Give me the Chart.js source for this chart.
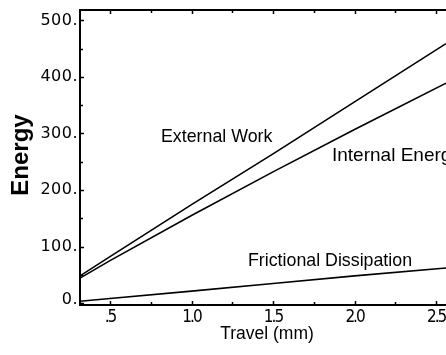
<!DOCTYPE html>
<html><head><meta charset="utf-8">
<script src="https://cdn.jsdelivr.net/npm/chart.js@4/dist/chart.umd.min.js"></script>
<style>html,body{margin:0;padding:0;background:#fff;overflow:hidden}</style>
</head><body>
<canvas id="c" width="446" height="355"></canvas>
<script>
const travel = [0.316, 0.5, 1.0, 1.5, 2.0, 2.561];
const externalWork = [48, 82, 174, 264, 356, 459];
const internalEnergy = [44, 75, 155, 232, 307, 389];
const frictional = [3, 8, 21, 34.5, 48, 62];
const xTickValues = [0.5, 1.0, 1.5, 2.0, 2.5];
const xTickLabels = ['.5', '1.0', '1.5', '2.0', '2.5'];
const xMinorValues = [0.75, 1.25, 1.75, 2.25];
const yTickValues = [0, 100, 200, 300, 400, 500];
const yTickLabels = ['0.', '100.', '200.', '300.', '400.', '500.'];
const yMinorValues = [50, 150, 250, 350, 450];
const seriesNames = ['External Work', 'Internal Energy', 'Frictional Dissipation'];
const xTitle = 'Travel (mm)';
const yTitle = 'Energy';

const pts = ys => travel.map((x, i) => ({x, y: ys[i]}));

const deco = {
  id: 'deco',
  afterDraw(chart) {
    const {ctx, chartArea: a, scales: {x, y}} = chart;
    ctx.save();
    ctx.strokeStyle = '#000';
    ctx.lineWidth = 2;
    ctx.beginPath();
    ctx.moveTo(a.left - 1, a.top);
    ctx.lineTo(a.right + 5, a.top);
    ctx.stroke();
    ctx.lineWidth = 1.5;
    ctx.beginPath();
    const xt = (v, len) => {
      const px = Math.round(x.getPixelForValue(v)) + 0.5;
      ctx.moveTo(px, a.bottom); ctx.lineTo(px, a.bottom - len);
      ctx.moveTo(px, a.top); ctx.lineTo(px, a.top + len);
    };
    const yt = (v, len) => {
      const py = Math.round(y.getPixelForValue(v)) + 0.5;
      ctx.moveTo(a.left, py); ctx.lineTo(a.left + len, py);
    };
    xTickValues.forEach(v => xt(v, 4));
    xMinorValues.forEach(v => xt(v, 3));
    yTickValues.forEach(v => yt(v, 4));
    yMinorValues.forEach(v => yt(v, 3));
    ctx.stroke();

    ctx.fillStyle = '#000';
    // y tick labels
    ctx.font = '16px "DejaVu Sans"';
    ctx.letterSpacing = '0.5px';
    ctx.textAlign = 'right';
    ctx.textBaseline = 'middle';
    yTickValues.forEach((v, i) => {
      let py = y.getPixelForValue(v);
      if (v === 0) py -= 3;
      ctx.fillText(yTickLabels[i], a.left - 2, py);
    });
    // x tick labels
    ctx.font = '17px "DejaVu Sans Condensed"';
    ctx.letterSpacing = '-2px';
    ctx.textAlign = 'center';
    ctx.textBaseline = 'alphabetic';
    xTickValues.forEach((v, i) => {
      ctx.fillText(xTickLabels[i], x.getPixelForValue(v), 322);
    });
    ctx.letterSpacing = '0px';
    // axis titles
    ctx.font = '17.5px "Liberation Sans"';
    ctx.fillText(xTitle, 267, 339);
    ctx.save();
    ctx.translate(28, 155);
    ctx.rotate(-Math.PI / 2);
    ctx.font = 'bold 24px "Liberation Sans"';
    ctx.textAlign = 'center';
    ctx.fillText(yTitle, 0, 0);
    ctx.restore();
    // series annotations
    ctx.font = '17.8px "Liberation Sans"';
    ctx.textAlign = 'left';
    ctx.fillText(seriesNames[0], 161, 142);
    ctx.fillText(seriesNames[2], 248, 266);
    ctx.font = '19px "Liberation Sans"';
    ctx.fillText(seriesNames[1], 332, 161);
    ctx.restore();
  }
};

new Chart(document.getElementById('c'), {
  type: 'line',
  data: {
    datasets: [
      {label: seriesNames[0], data: pts(externalWork)},
      {label: seriesNames[1], data: pts(internalEnergy)},
      {label: seriesNames[2], data: pts(frictional)}
    ].map(d => Object.assign(d, {borderColor: '#000', borderWidth: 1.6, pointRadius: 0, tension: 0, fill: false}))
  },
  options: {
    responsive: false,
    animation: false,
    layout: {padding: {top: 10, right: 0, left: 0, bottom: 0}},
    plugins: {legend: {display: false}, tooltip: {enabled: false}},
    scales: {
      x: {
        type: 'linear', min: 0.316, max: 2.561,
        ticks: {display: false},
        grid: {display: false},
        border: {display: true, color: '#000', width: 2},
        afterFit: s => { s.height = 50; }
      },
      y: {
        type: 'linear', min: -3.5, max: 518.5,
        ticks: {display: false},
        grid: {display: false},
        border: {display: true, color: '#000', width: 2},
        afterFit: s => { s.width = 80; }
      }
    }
  },
  plugins: [deco]
});
</script>
</body></html>
